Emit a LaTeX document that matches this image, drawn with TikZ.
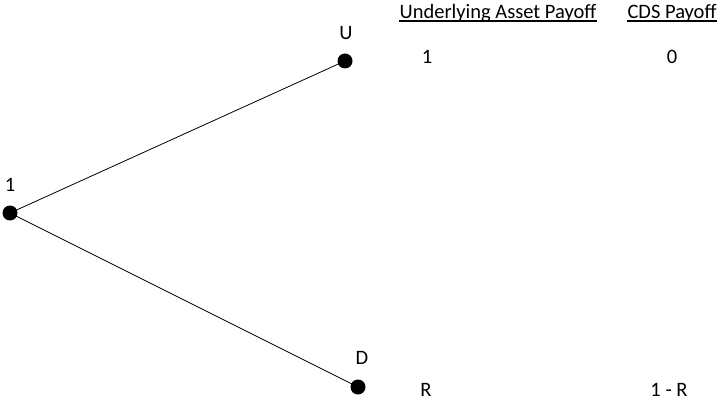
\documentclass[tikz,border=0pt]{standalone}
\usepackage{fontspec}
\setmainfont{Carlito}
\begin{document}
\begin{tikzpicture}[x=1pt,y=-1pt,
  dot/.style={circle,fill=black,inner sep=0pt,minimum size=15pt},
  lbl/.style={font=\fontsize{20.5}{24}\selectfont,inner sep=0pt,anchor=center},
  uline/.style={draw=black,line width=1.6pt},
  conn/.style={draw=black,line width=0.8pt}]
\useasboundingbox (0,0) rectangle (722,403);
\node[dot] (root) at (10,213) {};
\node[dot] (u) at (345,61) {};
\node[dot] (d) at (358,387) {};
\draw[conn] (root.center) -- (u.center);
\draw[conn] (root.center) -- (d.center);
\node[lbl] (lroot) at (10,185) {1};
\node[lbl] (lu) at (346,33) {U};
\node[lbl] (ld) at (362,358) {D};
\node[lbl] (h1) at (498,13) {Underlying Asset Payoff};
\node[lbl] (h2) at (672,13) {CDS Payoff};
\draw[uline] ([yshift=1pt]h1.south west) -- ([yshift=1pt]h1.south east);
\draw[uline] ([yshift=1pt]h2.south west) -- ([yshift=1pt]h2.south east);
\node[lbl] (u1) at (427,57) {1};
\node[lbl] (u2) at (672,57) {0};
\node[lbl] (d1) at (426,390) {R};
\node[lbl] (d2) at (669,390) {1 - R};
\end{tikzpicture}
\end{document}
